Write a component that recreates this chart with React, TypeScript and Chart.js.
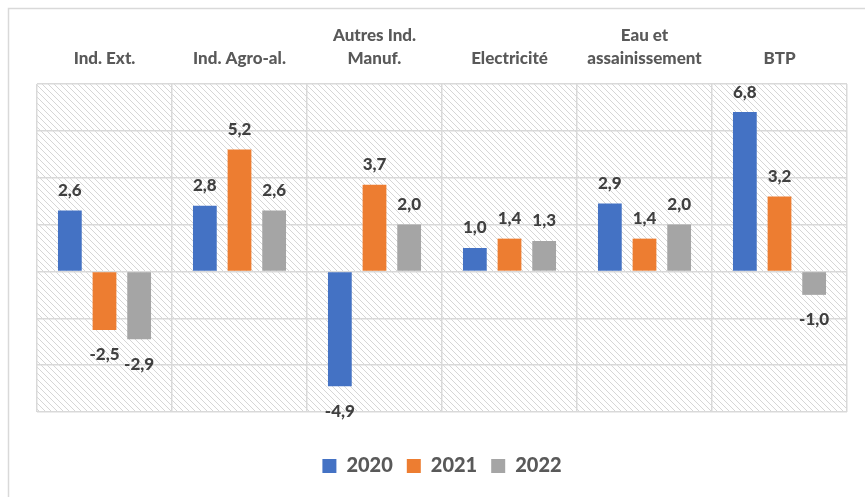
import React, { useEffect, useRef } from "react";
import { Chart, registerables } from "chart.js";

Chart.register(...registerables);

const categories: (string | string[])[] = [
  "Ind. Ext.",
  "Ind. Agro-al.",
  ["Autres Ind.", "Manuf."],
  "Electricité",
  ["Eau et", "assainissement"],
  "BTP",
];
const seriesNames = ["2020", "2021", "2022"];
const values2020 = [2.6, 2.8, -4.9, 1.0, 2.9, 6.8];
const values2021 = [-2.5, 5.2, 3.7, 1.4, 1.4, 3.2];
const values2022 = [-2.9, 2.6, 2.0, 1.3, 2.0, -1.0];
const colors = ["#4472C4", "#ED7D31", "#A5A5A5"];
const yMin = -6;
const yMax = 8;
const yStep = 2;

const FONT = "Lato, 'Open Sans', sans-serif";

function makeHatch(): CanvasPattern | string {
  const c = document.createElement("canvas");
  c.width = 6;
  c.height = 6;
  const g = c.getContext("2d");
  if (!g) return "#fff";
  g.fillStyle = "#ffffff";
  g.fillRect(0, 0, 6, 6);
  g.fillStyle = "#d6d6d6";
  for (let i = 0; i < 6; i++) g.fillRect(i, i, 1, 1);
  const p = g.createPattern(c, "repeat");
  return p || "#fff";
}

const bgPlugin = {
  id: "bgHatch",
  beforeDraw(chart: any) {
    const { ctx, chartArea } = chart;
    ctx.save();
    ctx.fillStyle = "#ffffff";
    ctx.fillRect(0, 0, chart.width, chart.height);
    ctx.strokeStyle = "#d9d9d9";
    ctx.lineWidth = 1.5;
    ctx.strokeRect(8.5, 8.5, chart.width + 20, chart.height + 20);
    ctx.fillStyle = makeHatch();
    ctx.fillRect(chartArea.left, chartArea.top, chartArea.right - chartArea.left, chartArea.bottom - chartArea.top);
    ctx.restore();
  },
};

const labelPlugin = {
  id: "valueLabels",
  afterDatasetsDraw(chart: any) {
    const { ctx } = chart;
    ctx.save();
    ctx.font = `900 17px ${FONT}`;
    ctx.fillStyle = "#404040";
    ctx.textAlign = "center";
    ctx.textBaseline = "middle";
    chart.data.datasets.forEach((ds: any, di: number) => {
      const meta = chart.getDatasetMeta(di);
      meta.data.forEach((el: any, i: number) => {
        const v = ds.data[i] as number;
        const txt = v.toFixed(1).replace(".", ",");
        const y = v >= 0 ? el.y - 20 : el.y + 25;
        ctx.fillText(txt, el.x, y);
      });
    });
    ctx.restore();
  },
};

export default function App() {
  const ref = useRef<HTMLCanvasElement | null>(null);
  useEffect(() => {
    if (!ref.current) return;
    const all = [values2020, values2021, values2022];
    const chart = new Chart(ref.current, {
      type: "bar",
      data: {
        labels: categories,
        datasets: all.map((d, i) => ({
          label: seriesNames[i],
          data: d,
          backgroundColor: colors[i],
          borderColor: colors[i],
          borderWidth: 0,
          categoryPercentage: 0.77,
          barPercentage: 0.686,
        })),
      },
      options: {
        animation: false,
        responsive: true,
        maintainAspectRatio: false,
        layout: { padding: { left: 37, right: 18, top: 0, bottom: 11 } },
        plugins: {
          tooltip: { enabled: false },
          legend: {
            position: "bottom",
            title: { display: true, text: " ", padding: { top: 18, bottom: 0 }, font: { size: 10 } },
            labels: {
              boxWidth: 14,
              boxHeight: 14,
              padding: 14,
              color: "#595959",
              font: { family: FONT, size: 20, weight: "900" },
            },
          },
        },
        scales: {
          x: {
            position: "top",
            grid: { color: "#d9d9d9", lineWidth: 1.5, drawTicks: false, offset: true },
            border: { display: false },
            ticks: {
              color: "#595959",
              padding: 14,
              maxRotation: 0,
              autoSkip: false,
              font: { family: FONT, size: 17, weight: "900", lineHeight: 1.35 },
            },
            afterFit: (s: any) => {
              s.height = 84;
            },
          },
          y: {
            min: yMin,
            max: yMax,
            ticks: { display: false, stepSize: yStep },
            grid: { color: "#d9d9d9", lineWidth: 1.5, drawTicks: false },
            border: { display: false },
            afterFit: (s: any) => {
              s.width = 0;
            },
          },
        },
      },
      plugins: [bgPlugin, labelPlugin],
    });
    return () => chart.destroy();
  }, []);
  return (
    <div style={{ position: "absolute", left: 0, top: 0, width: 865, height: 497 }}>
      <canvas ref={ref} />
    </div>
  );
}
